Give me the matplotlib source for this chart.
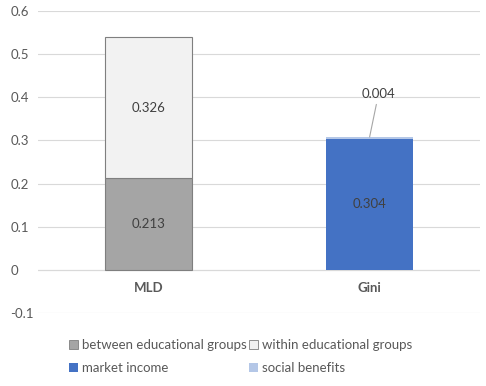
import matplotlib.pyplot as plt
from matplotlib.patches import Patch

plt.rcParams['font.family'] = ['Lato', 'DejaVu Sans']

categories = ['MLD', 'Gini']
between_groups = [0.213, 0]
within_groups = [0.326, 0]
market_income = [0, 0.304]
social_benefits = [0, 0.004]
y_ticks = [-0.1, 0, 0.1, 0.2, 0.3, 0.4, 0.5, 0.6]

txt = '#595959'
fig = plt.figure(figsize=(4.86, 3.86), dpi=100)
ax = fig.add_axes([0.078, 0.189, 0.91, 0.7825])

x = [0, 1]
w = 0.395
ax.bar(x[0], between_groups[0], w, color='#A5A5A5', edgecolor='#7F7F7F', lw=0.8, zorder=3)
ax.bar(x[0], within_groups[0], w, bottom=between_groups[0], color='#F2F2F2', edgecolor='#7F7F7F', lw=0.8, zorder=3)
ax.bar(x[1], market_income[1], w, color='#4472C4', zorder=3)
ax.bar(x[1], social_benefits[1], w, bottom=market_income[1], color='#B4C7E7', zorder=3)

ax.text(x[0], between_groups[0] / 2, f'{between_groups[0]:.3f}', ha='center', va='center', fontsize=9.5, color='#404040', zorder=4)
ax.text(x[0], between_groups[0] + within_groups[0] / 2, f'{within_groups[0]:.3f}', ha='center', va='center', fontsize=9.5, color='#404040', zorder=4)
ax.text(x[1], market_income[1] / 2, f'{market_income[1]:.3f}', ha='center', va='center', fontsize=9.5, color='#404040', zorder=4)
top = market_income[1] + social_benefits[1]
# label for the thin segment sits above the bar with a leader line
ax.annotate(f'{social_benefits[1]:.3f}', xy=(x[1], top), xytext=(x[1] + 0.04, 0.407),
            ha='center', va='center', fontsize=9.5, color='#404040', zorder=4,
            arrowprops=dict(arrowstyle='-', color='#A6A6A6', lw=0.8, shrinkA=1, shrinkB=0))

ax.set_xlim(-0.5, 1.5)
ax.set_ylim(-0.1, 0.6)
ax.set_yticks(y_ticks)
ax.set_yticklabels(['-0.1', '0', '0.1', '0.2', '0.3', '0.4', '0.5', '0.6'])
ax.tick_params(axis='y', length=0, labelsize=9.5, labelcolor=txt, pad=20)
for lab in ax.get_yticklabels():
    lab.set_ha('left')
ax.set_xticks([])
for cx, name in zip(x, categories):
    ax.text(cx, -0.042, name, ha='center', va='center', fontsize=9.5, fontweight='bold', color=txt)
ax.grid(axis='y', color='#D9D9D9', lw=0.8, zorder=0)
ax.axhline(0, color='#D9D9D9', lw=0.8, zorder=2)
for s in ax.spines.values():
    s.set_visible(False)

handles = [Patch(facecolor='#A5A5A5', edgecolor='#7F7F7F', lw=0.6),
           Patch(facecolor='#4472C4'),
           Patch(facecolor='#F2F2F2', edgecolor='#7F7F7F', lw=0.6),
           Patch(facecolor='#B4C7E7')]
labels = ['between educational groups', 'market income',
          'within educational groups', 'social benefits']
fig.legend(handles, labels, ncol=2, loc='center', bbox_to_anchor=(0.495, 0.076),
           frameon=False, fontsize=9.5, labelcolor=txt, handlelength=0.7, handleheight=0.7,
           handletextpad=0.25, columnspacing=0.2, labelspacing=0.85, borderpad=0)

fig.savefig('out.png', dpi=100)
